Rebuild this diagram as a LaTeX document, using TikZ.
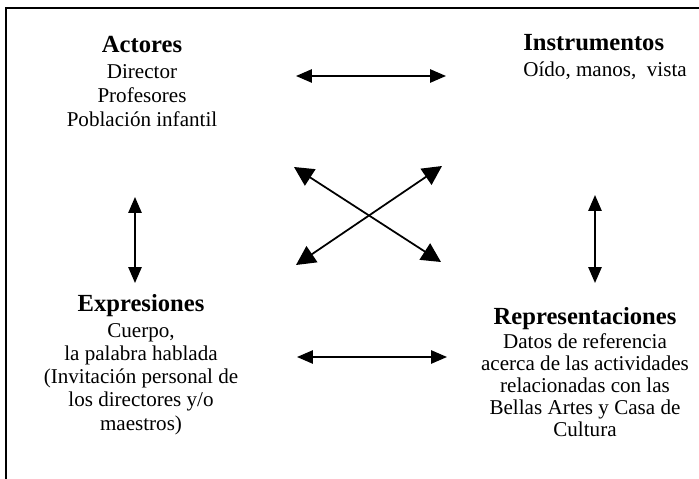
\documentclass[tikz,border=0pt]{standalone}
\usepackage{fontspec}
\setmainfont{Liberation Serif}
\usetikzlibrary{arrows.meta}

\tikzset{
  block/.style={inner sep=0pt, align=center, font=\fontsize{12}{13.6}\selectfont},
  link/.style={{Triangle[length=9pt,width=7.5pt]}-{Triangle[length=9pt,width=7.5pt]}, line width=1pt},
  cross/.style={{Triangle[length=11pt,width=11pt]}-{Triangle[length=11pt,width=11pt]}, line width=1pt},
}
\newcommand{\heading}[1]{{\fontsize{14}{14}\selectfont\bfseries #1}}

\begin{document}
\begin{tikzpicture}[x=0.02cm, y=-0.02cm]
		\useasboundingbox (0,0) rectangle (699,479);
		\draw [line width=1pt] (6,479) -- (6,8) -- (699,8);
		% the four blocks
		\node [block, anchor=north] (act) at (142,36)
			{\heading{Actores}\\[1pt] Director\\ Profesores\\ Población infantil};
		\node [block, align=left, anchor=north west] (ins) at (523,34)
			{\heading{Instrumentos}\\[1pt] Oído, manos,\ \ vista};
		\node [block, font=\fontsize{12}{13.1}\selectfont, anchor=north] (exp) at (141,294)
			{\heading{Expresiones}\\[2pt] Cuerpo,\\ la palabra hablada\\ (Invitación personal de\\ los directores y/o\\ maestros)};
		\node [block, font=\fontsize{12}{12.6}\selectfont, anchor=north] (rep) at (585,307)
			{\heading{Representaciones}\\[1pt] Datos de referencia\\ acerca de las actividades\\ relacionadas con las\\ Bellas Artes y Casa de\\ Cultura};
		% arrow ends
		\coordinate (actE) at (296,76);
		\coordinate (insW) at (446,76);
		\coordinate (expE) at (297,357);
		\coordinate (repW) at (447,357);
		\coordinate (actS) at (135,197);
		\coordinate (expN) at (135,283);
		\coordinate (insS) at (595,195);
		\coordinate (repN) at (595,283);
		\coordinate (nw) at (294,167);
		\coordinate (ne) at (442,166);
		\coordinate (sw) at (296,265);
		\coordinate (se) at (441,262);
		\draw [link] (actE) -- (insW);
		\draw [link] (expE) -- (repW);
		\draw [link] (actS) -- (expN);
		\draw [link] (insS) -- (repN);
		\draw [cross] (nw) -- (se);
		\draw [cross] (sw) -- (ne);
\end{tikzpicture}
\end{document}
